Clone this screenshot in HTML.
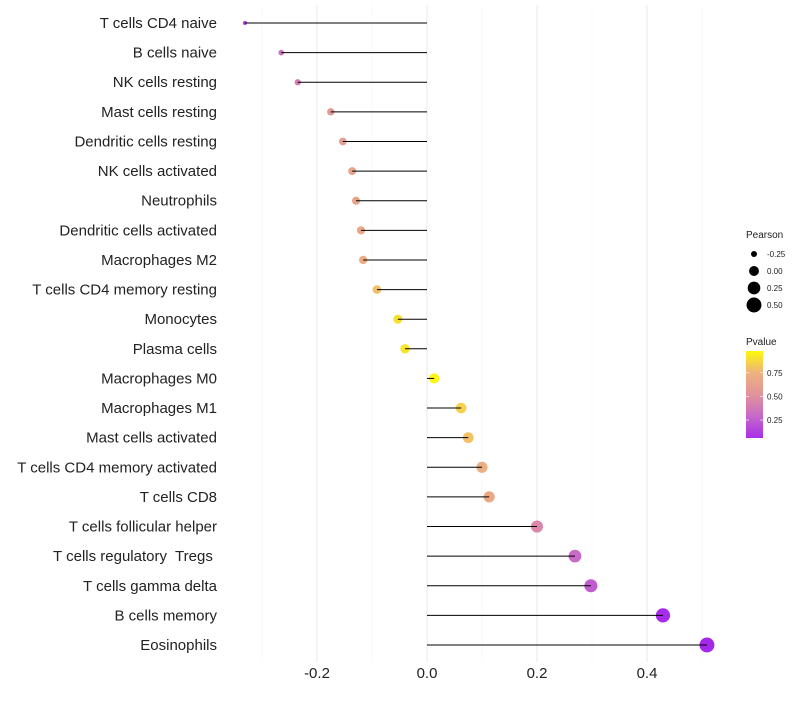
<!DOCTYPE html>
<html><head><meta charset="utf-8"><style>
body{margin:0;background:#fff;font-family:"Liberation Sans",sans-serif}
text{white-space:pre}
</style></head><body>
<svg id="chart" width="800" height="700" xmlns="http://www.w3.org/2000/svg" font-family="Liberation Sans, sans-serif"></svg>
<script>
const categories=["T cells CD4 naive","B cells naive","NK cells resting","Mast cells resting","Dendritic cells resting","NK cells activated","Neutrophils","Dendritic cells activated","Macrophages M2","T cells CD4 memory resting","Monocytes","Plasma cells","Macrophages M0","Macrophages M1","Mast cells activated","T cells CD4 memory activated","T cells CD8","T cells follicular helper","T cells regulatory  Tregs ","T cells gamma delta","B cells memory","Eosinophils"];
const pearson=[-0.331,-0.265,-0.235,-0.175,-0.153,-0.136,-0.129,-0.12,-0.116,-0.091,-0.053,-0.04,0.013,0.062,0.075,0.1,0.113,0.2,0.269,0.298,0.429,0.509];
const pvalue=[0.1,0.35,0.4,0.55,0.6,0.65,0.65,0.68,0.7,0.8,0.9,0.92,0.97,0.85,0.8,0.72,0.68,0.45,0.3,0.25,0.05,0.03];
const xTicks=[-0.2,0,0.2,0.4];
const xTickLabels=["-0.2","0.0","0.2","0.4"];
const sizeLegend=[-0.25,0,0.25,0.5];
const sizeLegendLabels=["-0.25","0.00","0.25","0.50"];
const pLegendTicks=[0.25,0.5,0.75];
const pLegendLabels=["0.25","0.50","0.75"];

const svg=document.getElementById('chart');
const NS='http://www.w3.org/2000/svg';
function mk(t,a,p){const e=document.createElementNS(NS,t);for(const k in a)e.setAttribute(k,a[k]);(p||svg).appendChild(e);return e;}
const xS=v=>427+v*550;
const yS=i=>23+i*(622/21);
function rad(v){return Math.sqrt(Math.max(3,4+(v+0.33)/0.84*52));}
function hex(c){return [parseInt(c.slice(1,3),16),parseInt(c.slice(3,5),16),parseInt(c.slice(5,7),16)];}
const stops=[[0,hex('#a020f0')],[0.3,hex('#c86ac8')],[0.5,hex('#e0909f')],[0.75,hex('#eeb27e')],[1,hex('#ffff00')]];
function col(p){for(let i=1;i<stops.length;i++){if(p<=stops[i][0]){const [p0,c0]=stops[i-1],[p1,c1]=stops[i];const t=(p-p0)/(p1-p0);return 'rgb('+c0.map((c,j)=>Math.round(c+(c1[j]-c)*t)).join(',')+')';}}return 'rgb(255,255,0)';}

[-0.3,-0.1,0.1,0.3,0.5].forEach(v=>{const g=mk('line',{x1:xS(v),x2:xS(v),y1:5,y2:662,stroke:'#f4f4f4','stroke-width':0.6});

});
xTicks.forEach((v,i)=>{const g=mk('line',{x1:xS(v),x2:xS(v),y1:5,y2:662,stroke:'#ebebeb','stroke-width':1.1});


const t=mk('text',{x:xS(v),y:678,'text-anchor':'middle','font-size':15,fill:'#222'});t.textContent=xTickLabels[i];

});
categories.forEach((c,i)=>{const y=yS(i);
const t=mk('text',{x:217,y:y+5,'text-anchor':'end','font-size':15,fill:'#222','xml:space':'preserve'});t.textContent=c;

});
categories.forEach((c,i)=>{const y=yS(i);
const p=mk('circle',{cx:xS(pearson[i]),cy:y,r:rad(pearson[i]),fill:col(pvalue[i])});


const l=mk('line',{x1:xS(0),x2:xS(pearson[i]),y1:y,y2:y,stroke:'#000','stroke-width':1});

});
let t=mk('text',{x:746,y:238,'font-size':10,fill:'#222'});t.textContent='Pearson';


sizeLegend.forEach((v,i)=>{const y=254+i*17;
const c=mk('circle',{cx:754,cy:y,r:rad(v),fill:'#000'});


const tt=mk('text',{x:767,y:y+3,'font-size':8,fill:'#222'});tt.textContent=sizeLegendLabels[i];

});
t=mk('text',{x:746,y:345,'font-size':10,fill:'#222'});t.textContent='Pvalue';


const defs=mk('defs',{});const lg=mk('linearGradient',{id:'pg',x1:0,y1:1,x2:0,y2:0},defs);
[0,0.125,0.25,0.375,0.5,0.625,0.75,0.875,1].forEach(p=>mk('stop',{offset:p,'stop-color':col(0.06+p*0.92)},lg));
const bar=mk('rect',{x:746,y:351,width:17,height:87,fill:'url(#pg)'});


pLegendTicks.forEach((v,i)=>{const y=438-(v-0.06)/0.92*87;
mk('line',{x1:746,x2:749,y1:y,y2:y,stroke:'#fff','stroke-width':0.6});
mk('line',{x1:760,x2:763,y1:y,y2:y,stroke:'#fff','stroke-width':0.6});
const tt=mk('text',{x:767,y:y+3,'font-size':8,fill:'#222'});tt.textContent=pLegendLabels[i];

});
</script>
</body></html>
